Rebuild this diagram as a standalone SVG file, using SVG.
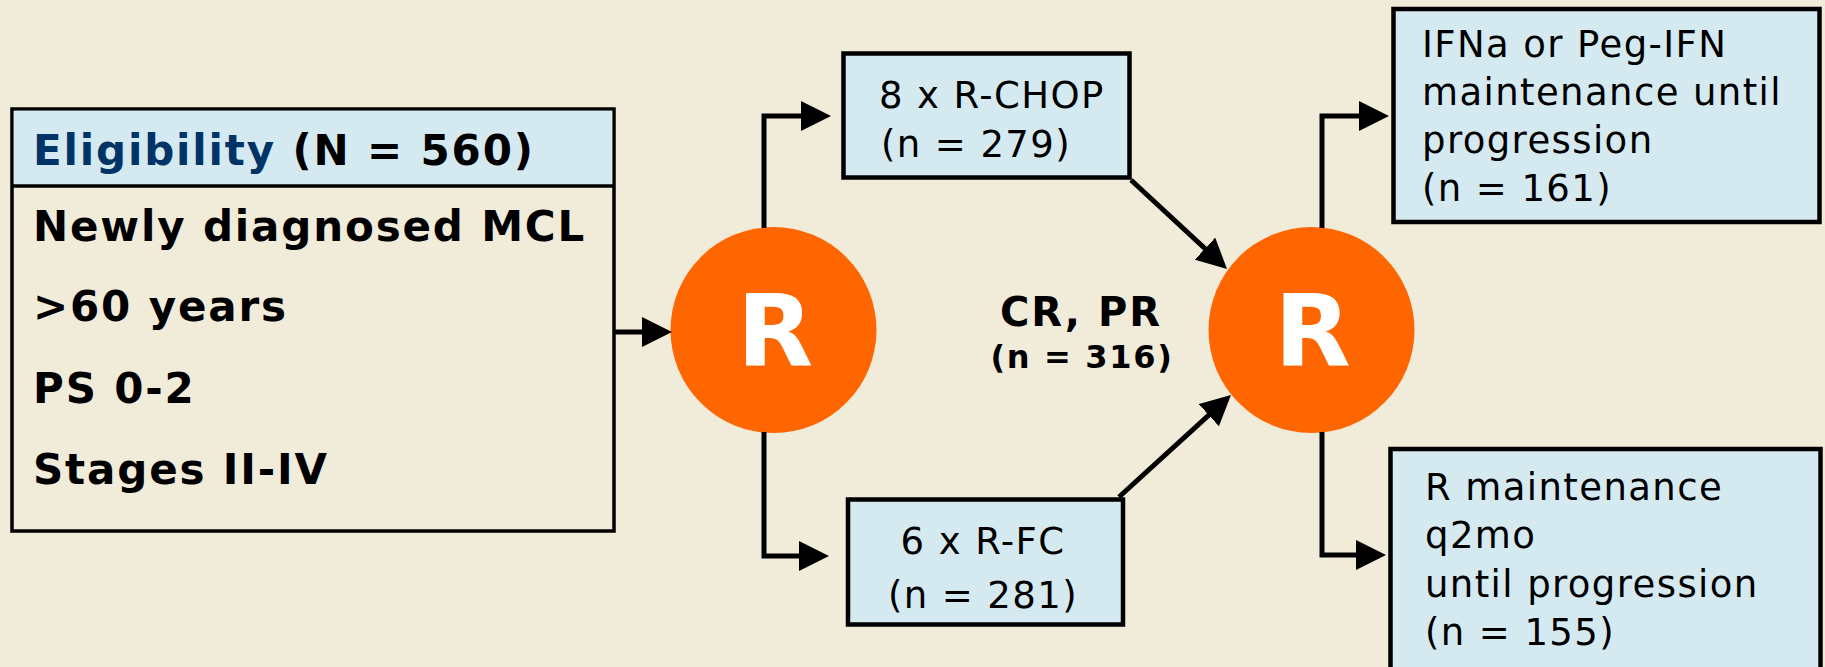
<svg xmlns="http://www.w3.org/2000/svg" width="1825" height="667" viewBox="0 0 1825 667">
<style>
.box{fill:#D5E9F0;stroke:#000;stroke-width:4.5}
.plain{fill:#F1EBDA;stroke:#000;stroke-width:3.5}
.circ{fill:#FF6600}
.reg{font-family:"DejaVu Sans",Verdana,sans-serif;font-size:37px;letter-spacing:1.4px;fill:#000}
.bold{font-family:"DejaVu Sans",Verdana,sans-serif;font-weight:bold;fill:#000}
.list{font-size:42px;letter-spacing:1.85px}
.rlet{font-family:"DejaVu Sans",Verdana,sans-serif;font-weight:bold;font-size:99px;fill:#fff;text-anchor:middle}
.conn{fill:none;stroke:#000;stroke-width:5}
</style>
<defs>
<marker id="ah" viewBox="0 0 30 30" refX="20" refY="15" markerWidth="30" markerHeight="30" markerUnits="userSpaceOnUse" orient="auto">
<path d="M0,0 L30,15 L0,30 z" fill="#000"/>
</marker>
</defs>
<rect width="1825" height="667" fill="#F1EBDA"/>

<g id="eligibility">
<rect x="12" y="109" width="602" height="422" class="plain"/>
<rect x="13.75" y="110.75" width="598.5" height="75" fill="#D5E9F0"/>
<line x1="12" y1="186" x2="614" y2="186" stroke="#000" stroke-width="3.5"/>
<text x="33" y="165" class="bold list"><tspan fill="#003366">Eligibility</tspan> (N = 560)</text>
<text x="33" y="241" class="bold list">Newly diagnosed MCL</text>
<text x="33" y="321" class="bold list">&gt;60 years</text>
<text x="33" y="403" class="bold list">PS 0-2</text>
<text x="33" y="484" class="bold list">Stages II-IV</text>
</g>

<g id="rand1">
<circle cx="773.5" cy="330" r="103" class="circ"/>
<text x="775" y="366" class="rlet">R</text>
</g>

<g id="rchop">
<rect x="843.5" y="53.5" width="286" height="124" class="box"/>
<text x="879" y="108" class="reg">8 x R-CHOP</text>
<text x="881" y="157" class="reg">(n = 279)</text>
</g>

<g id="rfc">
<rect x="848" y="499.5" width="275" height="125" class="box"/>
<text x="983" y="554" class="reg" text-anchor="middle">6 x R-FC</text>
<text x="983" y="608" class="reg" text-anchor="middle">(n = 281)</text>
</g>

<g id="response">
<text x="1081" y="326" class="bold" font-size="40" letter-spacing="2" text-anchor="middle">CR, PR</text>
<text x="1082" y="368" class="bold" font-size="32" letter-spacing="1.7" text-anchor="middle">(n = 316)</text>
</g>

<g id="rand2">
<circle cx="1311.5" cy="330" r="103" class="circ"/>
<text x="1312.5" y="366" class="rlet">R</text>
</g>

<g id="ifn">
<rect x="1393.5" y="9" width="426" height="213" class="box"/>
<text x="1422" y="56.5" class="reg">IFNa or Peg-IFN</text>
<text x="1422" y="104.5" class="reg">maintenance until</text>
<text x="1422" y="152.5" class="reg">progression</text>
<text x="1422" y="200.5" class="reg">(n = 161)</text>
</g>

<g id="rmaint">
<rect x="1390.5" y="449" width="430" height="240" class="box"/>
<text x="1425" y="500" class="reg">R maintenance</text>
<text x="1425" y="548" class="reg">q2mo</text>
<text x="1425" y="597" class="reg">until progression</text>
<text x="1425" y="645" class="reg">(n = 155)</text>
</g>

<g id="connectors">
<path class="conn" d="M614,332 H662" marker-end="url(#ah)"/>
<path class="conn" d="M764,228 V116 H821" marker-end="url(#ah)"/>
<path class="conn" d="M764,432 V556 H819" marker-end="url(#ah)"/>
<path class="conn" d="M1131,180 L1219.7,262.2" marker-end="url(#ah)"/>
<path class="conn" d="M1119,497 L1223.6,401.7" marker-end="url(#ah)"/>
<path class="conn" d="M1322,228 V116 H1379" marker-end="url(#ah)"/>
<path class="conn" d="M1322,432 V555 H1376" marker-end="url(#ah)"/>
</g>
</svg>
